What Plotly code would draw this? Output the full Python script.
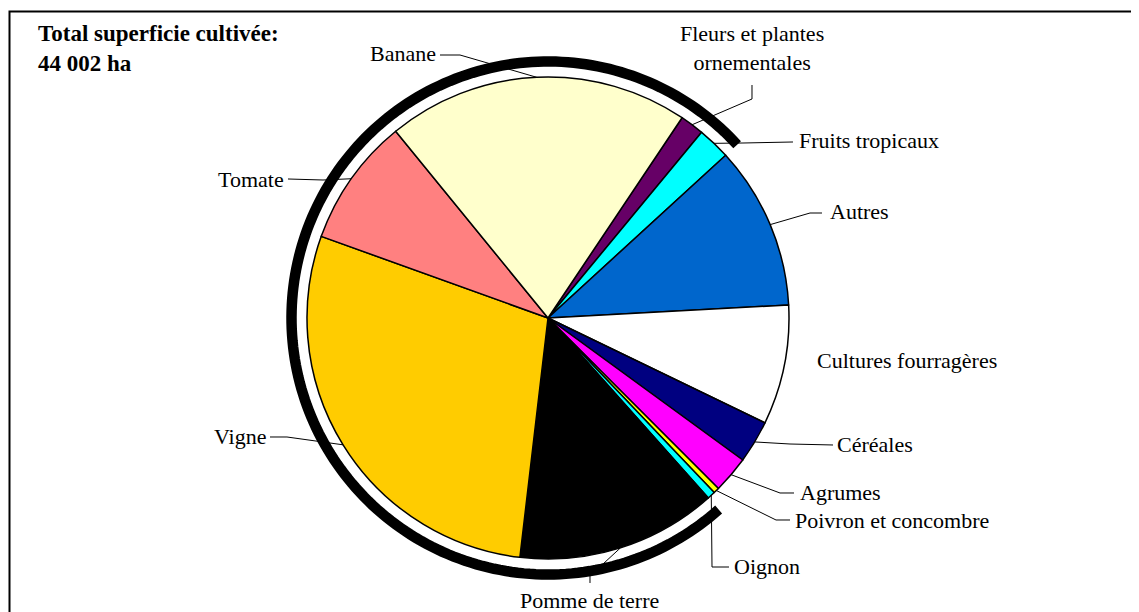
import math
import plotly.graph_objects as go

# ---- data (hectares; total 44 002 ha) ----
labels = ["Fleurs et plantes<br>ornementales", "Fruits tropicaux", "Autres",
          "Cultures fourragères", "Céréales", "Agrumes", "Poivron et concombre",
          "Oignon", "Pomme de terre", "Vigne", "Tomate", "Banane"]
values = [709, 966, 4816, 3532, 1259, 1088, 171, 232, 5916, 12602, 3789, 8923]
colors = ["#660066", "#00FFFF", "#0066CC", "#FFFFFF", "#000080", "#FF00FF",
          "#FFFF00", "#00FFFF", "#000000", "#FFCC00", "#FF8080", "#FFFFCC"]
# slices wrapped by the thick outer arc (from "Pomme de terre" round to "Fruits tropicaux")
arc_from = "Pomme de terre"
arc_to = "Fruits tropicaux"

title_lines = ["Total superficie cultivée:", "44 002 ha"]

# ---- layout constants (window pixel coordinates) ----
WIN_W, WIN_H = 1139, 612
OFF = 8                      # default page margin of the html body
W, H = WIN_W, WIN_H          # figure extends past the window edge like the reference frame
CX, CY, R = 548, 318, 241
START = 33.8  # degrees clockwise from 12 o'clock where the first slice starts
FONT = "Liberation Serif"
FS = 22

total = sum(values)
cum = [0]
for v in values:
    cum.append(cum[-1] + v)
ang0 = [START + 360 * cum[i] / total for i in range(len(values))]
ang1 = [START + 360 * cum[i + 1] / total for i in range(len(values))]
mid = [(a + b) / 2 for a, b in zip(ang0, ang1)]


def pt(a, r):
    rad = math.radians(a)
    return CX + r * math.sin(rad), CY - r * math.cos(rad)


def paper(x, y):
    return (x - OFF) / W, 1 - (y - OFF) / H


dx0, dy1 = paper(CX - R, CY - R)
dx1, dy0 = paper(CX + R, CY + R)

fig = go.Figure(go.Pie(
    labels=labels, values=values, sort=False, direction="clockwise",
    rotation=START, textinfo="none", hoverinfo="label+value",
    marker=dict(colors=colors, line=dict(color="black", width=1.5)),
    domain=dict(x=[dx0, dx1], y=[dy0, dy1]),
    showlegend=False,
))

shapes = []
# outer frame
fx0, fy1 = paper(9.5, 11.5)
shapes.append(dict(type="rect", xref="paper", yref="paper",
                   x0=fx0, y0=-0.2, x1=1.2, y1=fy1,
                   line=dict(color="black", width=2), fillcolor="rgba(0,0,0,0)"))

# thick arc
i_from = labels.index(arc_from)
i_to = labels.index(arc_to)
a_start = ang0[i_from]
a_end = ang1[i_to] + 360
n = 200
pts = [paper(*pt(a_start + (a_end - a_start) * k / n, 256.5)) for k in range(n + 1)]
path = "M " + " L ".join(f"{x:.5f},{y:.5f}" for x, y in pts)
shapes.append(dict(type="path", xref="paper", yref="paper", path=path,
                   line=dict(color="black", width=10.5)))

# label placement: (text x, text y, anchor, leader points before the slice edge)
place = {
    "Banane": (438, 54, "right", [(440, 55), (460, 55)]),
    "Fleurs et plantes<br>ornementales": (752, 48, "center", [(752, 85), (752, 99)]),
    "Fruits tropicaux": (797, 140, "left", [(793, 142), (743, 143)]),
    "Autres": (828, 212, "left", [(822, 213), (810, 213)]),
    "Cultures fourragères": (815, 361, "left", None),
    "Céréales": (835, 444, "left", [(833, 445), (790, 444)]),
    "Agrumes": (798, 492, "left", [(794, 493), (780, 493)]),
    "Poivron et concombre": (793, 520, "left", [(790, 520), (776, 520)]),
    "Oignon": (732, 566, "left", [(729, 567), (712, 567)]),
    "Pomme de terre": (589, 600, "center", [(590, 583), (590, 576)]),
    "Vigne": (268, 436, "right", [(270, 437), (287, 437)]),
    "Tomate": (286, 179, "right", [(288, 179), (323, 180)]),
}

annotations = []
for i, lab in enumerate(labels):
    tx, ty, anc, lead = place[lab]
    x, y = paper(tx, ty)
    annotations.append(dict(x=x, y=y, xref="paper", yref="paper", text=lab,
                            showarrow=False, xanchor=anc, yanchor="middle",
                            align="center", font=dict(family=FONT, size=FS, color="black")))
    if lead:
        ex, ey = pt(mid[i], R)
        seq = [paper(px, py) for px, py in lead] + [paper(ex, ey)]
        p = "M " + " L ".join(f"{a:.5f},{b:.5f}" for a, b in seq)
        shapes.append(dict(type="path", xref="paper", yref="paper", path=p,
                           line=dict(color="black", width=1)))

for k, line in enumerate(title_lines):
    x, y = paper(36, 34 + 29 * k)
    annotations.append(dict(x=x, y=y, xref="paper", yref="paper", text=f"<b>{line}</b>",
                            showarrow=False, xanchor="left", yanchor="middle",
                            font=dict(family=FONT, size=23, color="black")))

fig.update_layout(width=W, height=H, margin=dict(l=0, r=0, t=0, b=0),
                  paper_bgcolor="white", plot_bgcolor="white",
                  shapes=shapes, annotations=annotations)
fig.write_html("out.html")
